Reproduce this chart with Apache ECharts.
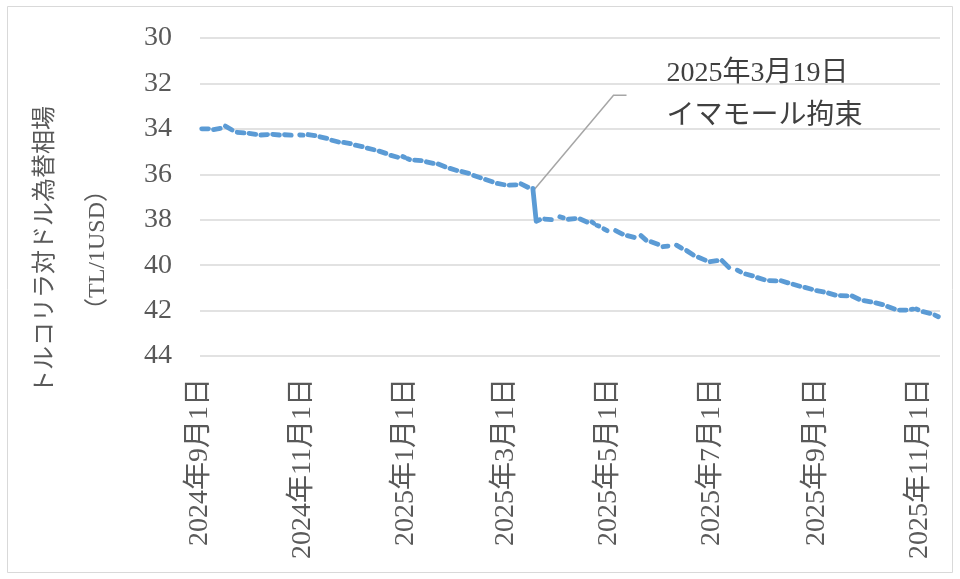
<!DOCTYPE html>
<html>
<head>
<meta charset="utf-8">
<script src="https://cdn.jsdelivr.net/npm/echarts@6/dist/echarts.min.js"></script>
<style>
html,body{margin:0;padding:0;background:#fff;}
#chart{width:960px;height:579px;}
</style>
</head>
<body>
<div id="chart"></div>
<script>
// Trading-day readings (null marks a break: weekend / holiday)
const dates = [
'2024-09-02','2024-09-06','2024-09-07','2024-09-09','2024-09-13','2024-09-14','2024-09-16','2024-09-20','2024-09-21',
'2024-09-23','2024-09-27','2024-09-28','2024-09-30','2024-10-04','2024-10-05','2024-10-07','2024-10-11','2024-10-12',
'2024-10-14','2024-10-18','2024-10-19','2024-10-21','2024-10-25','2024-10-26','2024-10-30','2024-11-01','2024-11-02',
'2024-11-04','2024-11-08','2024-11-09','2024-11-11','2024-11-15','2024-11-16','2024-11-18','2024-11-22','2024-11-23',
'2024-11-25','2024-11-29','2024-11-30','2024-12-02','2024-12-06','2024-12-07','2024-12-09','2024-12-13','2024-12-14',
'2024-12-16','2024-12-20','2024-12-21','2024-12-23','2024-12-27','2024-12-28','2024-12-30','2024-12-31','2025-01-01',
'2025-01-02','2025-01-03','2025-01-04','2025-01-06','2025-01-10','2025-01-11','2025-01-13','2025-01-17','2025-01-18',
'2025-01-20','2025-01-24','2025-01-25','2025-01-27','2025-01-31','2025-02-01','2025-02-03','2025-02-07','2025-02-08',
'2025-02-10','2025-02-14','2025-02-15','2025-02-17','2025-02-21','2025-02-22','2025-02-24','2025-02-28','2025-03-01',
'2025-03-03','2025-03-07','2025-03-08','2025-03-10','2025-03-14','2025-03-15','2025-03-17','2025-03-18','2025-03-19',
'2025-03-21','2025-03-22','2025-03-24','2025-03-28','2025-03-29','2025-04-02','2025-04-04','2025-04-05','2025-04-07',
'2025-04-11','2025-04-12','2025-04-14','2025-04-18','2025-04-19','2025-04-21','2025-04-22','2025-04-23','2025-04-24',
'2025-04-25','2025-04-26','2025-04-28','2025-04-30','2025-05-01','2025-05-05','2025-05-09','2025-05-10','2025-05-12',
'2025-05-16','2025-05-17','2025-05-20','2025-05-23','2025-05-24','2025-05-26','2025-05-30','2025-05-31','2025-06-02',
'2025-06-05','2025-06-06','2025-06-10','2025-06-13','2025-06-14','2025-06-16','2025-06-20','2025-06-21','2025-06-23',
'2025-06-27','2025-06-28','2025-06-30','2025-07-04','2025-07-05','2025-07-07','2025-07-11','2025-07-12','2025-07-16',
'2025-07-18','2025-07-19','2025-07-21','2025-07-25','2025-07-26','2025-07-28','2025-08-01','2025-08-02','2025-08-04',
'2025-08-08','2025-08-09','2025-08-11','2025-08-15','2025-08-16','2025-08-18','2025-08-22','2025-08-23','2025-08-25',
'2025-08-29','2025-08-30','2025-09-01','2025-09-05','2025-09-06','2025-09-08','2025-09-12','2025-09-13','2025-09-15',
'2025-09-19','2025-09-20','2025-09-22','2025-09-26','2025-09-27','2025-09-29','2025-10-03','2025-10-04','2025-10-06',
'2025-10-10','2025-10-11','2025-10-13','2025-10-17','2025-10-18','2025-10-20','2025-10-24','2025-10-25','2025-10-27',
'2025-10-28','2025-10-29','2025-10-30','2025-10-31','2025-11-01','2025-11-03','2025-11-07','2025-11-08','2025-11-10',
'2025-11-12'
];
const rates = [
34.00,34.00,null,34.03,33.98,null,33.88,34.05,null,
34.15,34.18,null,34.20,34.24,null,34.27,34.25,null,
34.24,34.27,null,34.26,34.28,null,34.27,34.28,null,
34.25,34.30,null,34.35,34.42,null,34.50,34.58,null,
34.60,34.65,null,34.72,34.78,null,34.85,34.92,null,
34.98,35.08,null,35.17,35.25,null,35.22,35.25,null,
35.32,35.35,null,35.38,35.40,null,35.45,35.52,null,
35.55,35.67,null,35.74,35.83,null,35.88,35.96,null,
36.05,36.15,null,36.23,36.33,null,36.40,36.46,null,
36.48,36.47,null,36.42,36.57,null,36.62,36.66,38.07,
38.00,null,37.97,38.00,null,37.87,37.92,null,37.98,
37.95,null,37.97,38.10,null,38.10,38.15,null,38.25,
38.28,null,38.40,38.48,null,38.48,38.63,null,38.70,
38.78,null,38.70,38.90,null,38.97,39.08,null,39.19,
39.16,null,39.12,39.25,null,39.36,39.55,null,39.65,
39.78,null,39.85,39.80,null,39.80,40.10,null,40.22,
40.30,null,40.39,40.47,null,40.55,40.64,null,40.68,
40.69,null,40.69,40.78,null,40.84,40.93,null,40.98,
41.06,null,41.12,41.18,null,41.23,41.32,null,41.34,
41.35,null,41.36,41.50,null,41.56,41.62,null,41.66,
41.74,null,41.82,41.93,null,41.98,41.98,null,41.95,
41.94,null,41.93,41.96,null,42.05,42.12,null,42.20,
42.27
];
const xTickDates = ['2024-09-01','2024-11-01','2025-01-01','2025-03-01','2025-05-01','2025-07-01','2025-09-01','2025-11-01'];
const yTicks = [30, 32, 34, 36, 38, 40, 42, 44];
const axisTitle = ['トルコリラ対ドル為替相場', '（TL/1USD）'];
const noteDate = '2025-03-18';
const noteLines = ['2025年3月19日', 'イマモール拘束'];

function ts(s){ const p = s.split('-').map(Number); return new Date(p[0], p[1]-1, p[2]).getTime(); }
function fmtDate(v){ const d = new Date(v); return d.getFullYear() + '年' + (d.getMonth()+1) + '月' + d.getDate() + '日'; }

const seriesData = dates.map((d, i) => [ts(d), rates[i]]);
const FONT = "'Liberation Serif', 'Noto Sans CJK JP', serif";

const chart = echarts.init(document.getElementById('chart'), null, {renderer: 'canvas'});
chart.setOption({
  animation: false,
  backgroundColor: '#ffffff',
  grid: {left: 200, right: 20, top: 38, bottom: 223, containLabel: false, outerBoundsMode: 'none'},
  xAxis: {
    type: 'value',
    min: ts('2024-09-01'),
    max: ts('2025-11-13'),
    axisLine: {show: false},
    axisTick: {show: false},
    splitLine: {show: false},
    axisLabel: {
      customValues: xTickDates.map(ts),
      rotate: 90,
      margin: 22,
      color: '#595959',
      fontFamily: FONT,
      fontSize: 28,
      formatter: fmtDate
    }
  },
  yAxis: {
    type: 'value',
    inverse: true,
    min: yTicks[0],
    max: yTicks[yTicks.length-1],
    interval: 2,
    axisLine: {show: false},
    axisTick: {show: false},
    splitLine: {lineStyle: {color: '#d9d9d9', width: 1.5}},
    axisLabel: {color: '#595959', fontFamily: FONT, fontSize: 28, margin: 28},
    name: axisTitle.join('\n'),
    nameLocation: 'middle',
    nameRotate: 90,
    nameGap: 76,
    nameTextStyle: {color: '#595959', fontFamily: FONT, fontSize: 24, lineHeight: 52, padding: [0, 106, 0, 0]}
  },
  series: [{
    type: 'line',
    data: seriesData,
    showSymbol: false,
    connectNulls: false,
    lineStyle: {color: '#5B9BD5', width: 4.8, cap: 'round', join: 'round'},
    itemStyle: {color: '#5B9BD5'}
  }]
});

const p = chart.convertToPixel({gridIndex: 0}, [ts(noteDate), rates[dates.indexOf(noteDate)]]);
const elbow = [p[0] + 79, p[1] - 94];
chart.setOption({
  graphic: [
    {type: 'rect', silent: true, shape: {x: 7.5, y: 6.5, width: 945, height: 566},
     style: {fill: 'none', stroke: '#d9d9d9', lineWidth: 1}},
    {type: 'polyline', silent: true, shape: {points: [[p[0], p[1]], elbow, [elbow[0] + 13, elbow[1]]]},
     style: {stroke: '#a6a6a6', lineWidth: 1.5, fill: 'none'}},
    {type: 'text', silent: true, x: p[0] + 132, y: elbow[1] - 22,
     style: {text: noteLines[0], font: "28px " + FONT, fill: '#404040', verticalAlign: 'middle'}},
    {type: 'text', silent: true, x: p[0] + 132, y: elbow[1] + 21,
     style: {text: noteLines[1], font: "28px " + FONT, fill: '#404040', verticalAlign: 'middle'}}
  ]
});
</script>
</body>
</html>
